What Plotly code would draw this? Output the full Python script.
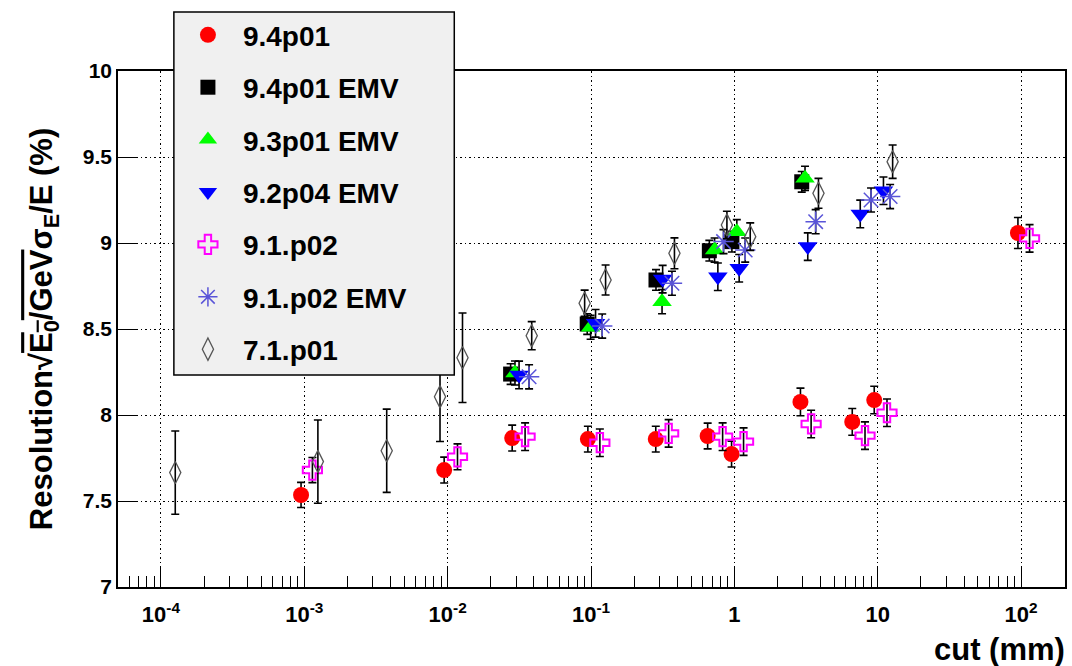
import plotly.graph_objects as go

# ---- data: cut value (mm), resolution (%), symmetric error (%) ----
cut_94 = [0.00095, 0.00946, 0.0282, 0.0951, 0.283, 0.651, 0.956, 2.89, 6.64, 9.45, 95.0]
res_94 = [7.535, 7.68, 7.866, 7.86, 7.86, 7.878, 7.773, 8.076, 7.96, 8.087, 9.058]
err_94 = [0.073, 0.075, 0.075, 0.075, 0.075, 0.075, 0.075, 0.08, 0.078, 0.08, 0.09]

cut_94emv = [0.0275, 0.0941, 0.284, 0.669, 0.961, 2.95]
res_94emv = [8.238, 8.529, 8.785, 8.955, 9.008, 9.356]
err_94emv = [0.06, 0.06, 0.06, 0.06, 0.06, 0.06]

cut_93emv = [0.0295, 0.0994, 0.313, 0.728, 1.04, 3.11]
res_93emv = [8.244, 8.51, 8.659, 8.959, 9.066, 9.376]
err_93emv = [0.07, 0.07, 0.07, 0.07, 0.07, 0.07]

cut_92emv = [0.0315, 0.1076, 0.316, 0.767, 1.08, 3.25, 7.55, 10.96]
res_92emv = [8.233, 8.533, 8.79, 8.804, 8.853, 8.979, 9.169, 9.304]
err_92emv = [0.08, 0.08, 0.08, 0.08, 0.08, 0.08, 0.08, 0.08]

cut_91 = [0.00114, 0.01172, 0.0347, 0.1153, 0.348, 0.828, 1.159, 3.43, 8.15, 11.6, 114.5]
res_91 = [7.68, 7.757, 7.874, 7.839, 7.893, 7.874, 7.845, 7.948, 7.88, 8.013, 9.027]
err_91 = [0.073, 0.075, 0.08, 0.08, 0.08, 0.08, 0.08, 0.08, 0.08, 0.08, 0.08]

cut_91emv = [0.037, 0.1197, 0.367, 0.84, 1.19, 3.69, 8.98, 12.2]
res_91emv = [8.222, 8.517, 8.766, 9.008, 8.959, 9.124, 9.25, 9.27]
err_91emv = [0.07, 0.07, 0.07, 0.07, 0.07, 0.07, 0.07, 0.07]

cut_71 = [0.000126, 0.001245, 0.00376, 0.00885, 0.0127, 0.0386, 0.0903, 0.1264,
          0.382, 0.887, 1.29, 3.86, 12.7]
res_71 = [7.665, 7.729, 7.792, 8.106, 8.333, 8.461, 8.65, 8.785,
          8.94, 9.105, 9.037, 9.289, 9.473]
err_71 = [0.242, 0.242, 0.242, 0.26, 0.26, 0.082, 0.076, 0.087,
          0.09, 0.08, 0.08, 0.087, 0.097]

decade_vals = [1e-4, 1e-3, 1e-2, 1e-1, 1, 10, 100]
decade_text = ["10<sup>-4</sup>", "10<sup>-3</sup>", "10<sup>-2</sup>",
               "10<sup>-1</sup>", "1", "10", "10<sup>2</sup>"]
y_ticks = [7, 7.5, 8, 8.5, 9, 9.5, 10]
y_ticktext = ["7", "7.5", "8", "8.5", "9", "9.5", "10"]

FONT = "Liberation Sans, Arial, Helvetica, sans-serif"

series = [
    ("9.4p01", cut_94, res_94, err_94,
     dict(symbol="circle", size=16, color="#ff0000")),
    ("9.4p01 EMV", cut_94emv, res_94emv, err_94emv,
     dict(symbol="square", size=15, color="#000000")),
    ("9.3p01 EMV", cut_93emv, res_93emv, err_93emv,
     dict(symbol="triangle-up", size=17, color="#00ff00")),
    ("9.2p04 EMV", cut_92emv, res_92emv, err_92emv,
     dict(symbol="triangle-down", size=17, color="#0000ff")),
    ("9.1.p02", cut_91, res_91, err_91,
     dict(symbol="cross-open", size=16, color="#ff00ff",
          line=dict(color="#ff00ff", width=2))),
    ("9.1.p02 EMV", cut_91emv, res_91emv, err_91emv,
     dict(symbol="asterisk-open", size=17, color="#5954d8",
          line=dict(color="#5954d8", width=1.5))),
    ("7.1.p01", cut_71, res_71, err_71,
     dict(symbol="diamond-tall-open", size=16, color="#555555",
          line=dict(color="#555555", width=1.3))),
]

fig = go.Figure()
for i, (name, xs, ys, es, mk) in enumerate(series):
    fig.add_trace(go.Scatter(
        x=xs, y=ys, mode="markers", name=name, legendgroup=f"g{i}",
        marker=mk,
        error_y=dict(type="data", array=es, visible=True,
                     color="#000000", thickness=1.6, width=4),
    ))

# minor ticks: 2..9 in every decade
minor_vals = []
for e in range(-5, 3):
    for m in range(2, 10):
        minor_vals.append(m * 10 ** e)

fig.update_layout(
    width=1072, height=666,
    margin=dict(l=118, r=5, t=71, b=79),
    paper_bgcolor="white", plot_bgcolor="white",
    font=dict(family=FONT, color="black"),
    showlegend=True,
    legend=dict(
        x=0.058, y=1.118, xanchor="left", yanchor="top",
        bgcolor="rgba(0,0,0,0)", borderwidth=0,
        font=dict(family=FONT, size=28, weight="bold", color="black"),
        tracegroupgap=13, itemsizing="trace", itemwidth=60,
        maxheight=600,
    ),
    xaxis=dict(
        type="log", range=[-4.299, 2.306],
        tickmode="array", tickvals=decade_vals, ticktext=decade_text,
        ticks="inside", ticklen=20, tickwidth=1.3, tickcolor="black",
        tickfont=dict(family=FONT, size=22, weight="bold", color="black"),
        ticklabelstandoff=7,
        showline=True, linecolor="black", linewidth=1.5, mirror=True,
        showgrid=True, gridcolor="black", gridwidth=1.2, griddash="1.5px,3px",
        zeroline=False,
        minor=dict(tickmode="array", tickvals=minor_vals, ticks="inside",
                   ticklen=11, tickwidth=1.3, tickcolor="black", showgrid=False),
    ),
    yaxis=dict(
        range=[7, 10],
        tickmode="array", tickvals=y_ticks, ticktext=y_ticktext,
        ticks="inside", ticklen=20, tickwidth=1.3, tickcolor="black",
        tickfont=dict(family=FONT, size=21, weight="bold", color="black"),
        showline=True, linecolor="black", linewidth=1.5, mirror=True,
        showgrid=True, gridcolor="black", gridwidth=1.2, griddash="1.5px,3px",
        zeroline=False,
    ),
    shapes=[dict(
        type="rect", xref="paper", yref="paper", layer="above",
        x0=0.059, x1=0.3551, y0=0.4109, y1=1.1143,
        fillcolor="#f0f0f0", line=dict(color="black", width=1.5),
    )],
    annotations=[
        dict(
            xref="paper", yref="paper", x=-0.078, y=0.50,
            xanchor="center", yanchor="middle", textangle=-90, showarrow=False,
            text=("Resolution√<span style='text-decoration:overline'>"
                  "E<sub>0</sub>/GeV</span>σ<sub>E</sub>/E (%)"),
            font=dict(family=FONT, size=31, weight="bold", color="black"),
        ),
        dict(
            xref="paper", yref="paper", x=1.002, y=-0.122,
            xanchor="right", yanchor="middle", showarrow=False,
            text="cut (mm)",
            font=dict(family=FONT, size=31, weight="bold", color="black"),
        ),
    ],
)

fig.write_html("out.html", config={"displayModeBar": False})
